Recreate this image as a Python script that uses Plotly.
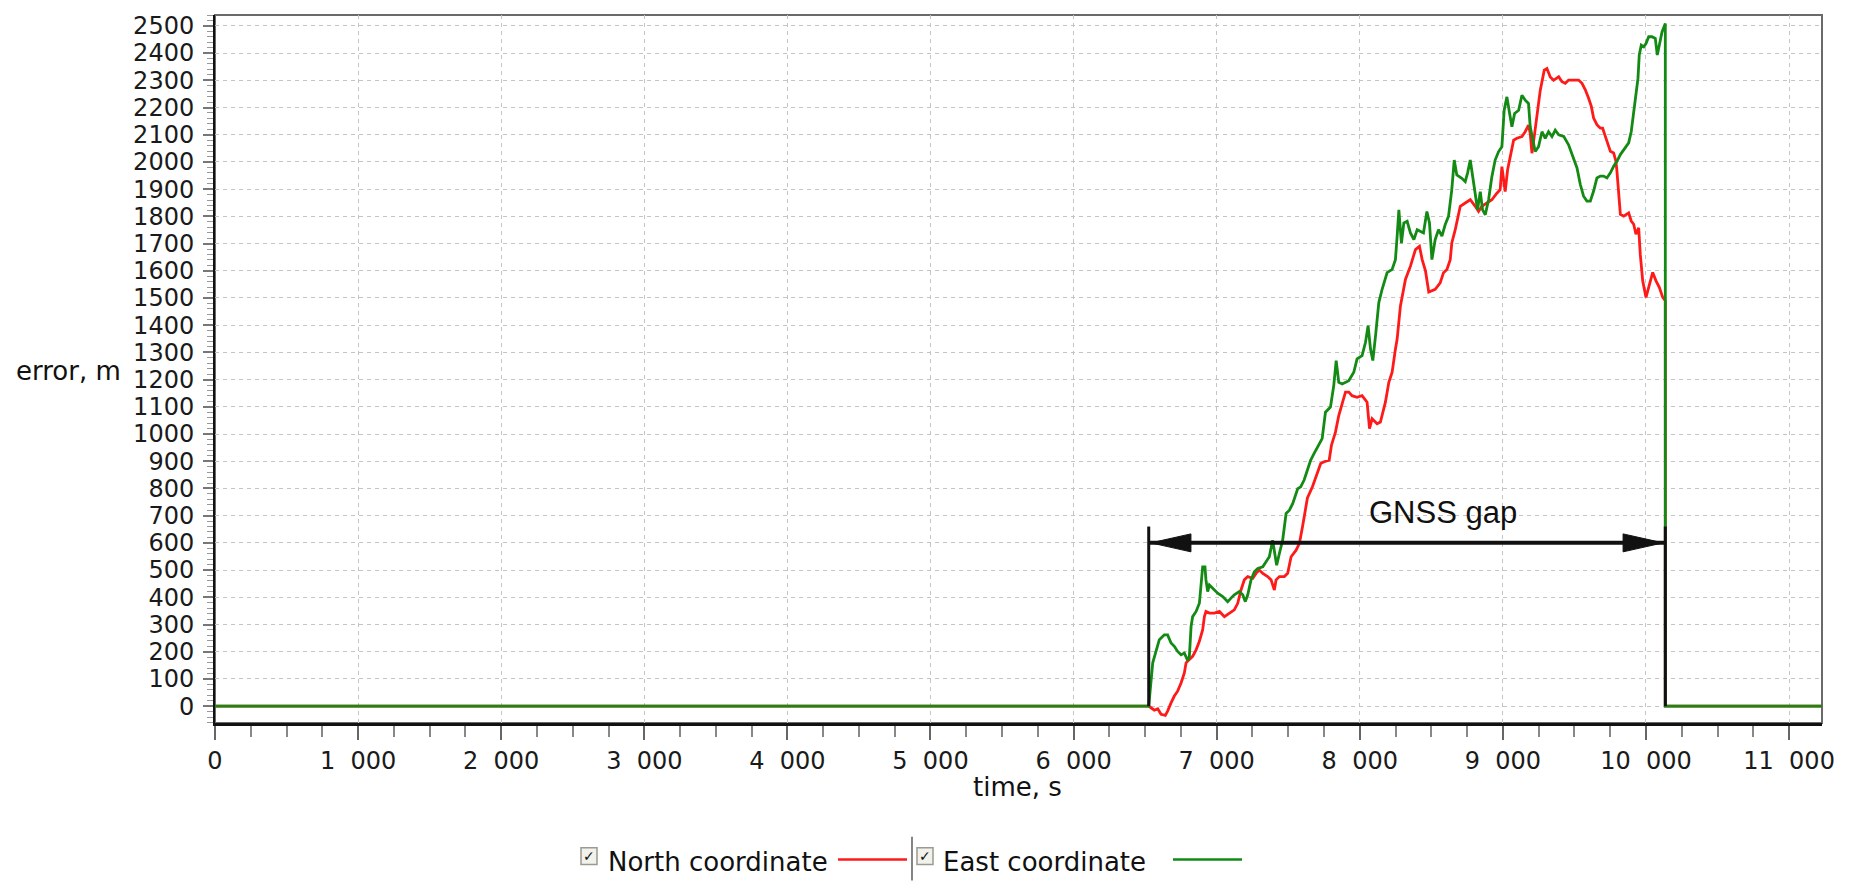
import plotly.graph_objects as go

# ---------------- data ----------------
# (time [s], error [m]) pairs
north_coordinate = [
    (0, 0), (6525, 0), (6541, -6), (6564, -15), (6588, -10), (6611, -30), (6641, -34), (6657, -18),
    (6681, 12), (6704, 37), (6727, 55), (6751, 85), (6774, 122), (6786, 159), (6809, 171), (6832, 183),
    (6856, 207), (6879, 238), (6902, 281), (6914, 329), (6925, 348), (6949, 342), (6984, 342), (7019, 348),
    (7054, 329), (7089, 342), (7123, 354), (7147, 378), (7170, 427), (7193, 464), (7217, 476), (7252, 470),
    (7275, 488), (7298, 500), (7322, 488), (7356, 476), (7380, 464), (7403, 427), (7415, 464), (7438, 476),
    (7473, 476), (7496, 488), (7520, 549), (7555, 573), (7578, 598), (7600, 660), (7634, 765), (7669, 806),
    (7704, 855), (7727, 892), (7751, 898), (7786, 904), (7802, 959), (7830, 1007), (7853, 1068), (7877, 1117),
    (7900, 1154), (7923, 1154), (7946, 1141), (7981, 1135), (8016, 1141), (8051, 1117), (8068, 1020),
    (8086, 1056), (8121, 1038), (8144, 1044), (8179, 1117), (8203, 1190), (8226, 1227), (8249, 1312),
    (8261, 1349), (8284, 1471), (8319, 1568), (8354, 1617), (8389, 1678), (8417, 1690), (8436, 1641),
    (8459, 1600), (8482, 1522), (8527, 1532), (8562, 1556), (8585, 1593), (8609, 1605), (8632, 1641),
    (8643, 1702), (8667, 1751), (8702, 1837), (8737, 1849), (8772, 1861), (8807, 1837), (8830, 1818),
    (8853, 1837), (8888, 1849), (8923, 1861), (8958, 1885), (8981, 1898), (8993, 1983), (9016, 1891),
    (9033, 1971), (9051, 2020), (9075, 2080), (9098, 2087), (9133, 2093), (9156, 2111), (9179, 2135),
    (9191, 2105), (9203, 2032), (9219, 2093), (9238, 2178), (9261, 2263), (9289, 2337), (9308, 2343),
    (9331, 2312), (9354, 2300), (9390, 2313), (9413, 2295), (9436, 2289), (9459, 2301), (9494, 2301),
    (9529, 2301), (9553, 2289), (9576, 2265), (9599, 2234), (9618, 2204), (9634, 2161), (9657, 2137),
    (9681, 2124), (9697, 2124), (9716, 2094), (9734, 2063), (9751, 2039), (9774, 2033), (9790, 2002),
    (9797, 1966), (9809, 1868), (9821, 1807), (9844, 1801), (9879, 1813), (9897, 1783), (9914, 1771),
    (9930, 1734), (9949, 1758), (9960, 1661), (9977, 1563), (10000, 1502), (10023, 1551), (10047, 1594),
    (10070, 1563), (10093, 1539), (10117, 1502), (10135, 1490), (10135, 0), (11230, 0),
]

east_coordinate = [
    (0, 0), (6525, 0), (6553, 159), (6576, 207), (6599, 244), (6634, 262), (6657, 262), (6681, 232),
    (6704, 220), (6727, 201), (6751, 189), (6774, 195), (6797, 168), (6809, 183), (6821, 293), (6832, 329),
    (6856, 348), (6879, 378), (6890, 451), (6902, 512), (6918, 512), (6925, 464), (6937, 421), (6949, 445),
    (6972, 433), (7007, 415), (7042, 403), (7077, 384), (7100, 397), (7123, 409), (7158, 421), (7182, 409),
    (7200, 384), (7217, 409), (7240, 464), (7263, 494), (7287, 506), (7322, 512), (7345, 531), (7368, 549),
    (7391, 610), (7403, 573), (7419, 518), (7438, 561), (7461, 610), (7485, 708), (7508, 720), (7531, 744),
    (7566, 799), (7587, 806), (7611, 831), (7634, 868), (7657, 904), (7681, 929), (7737, 983), (7760, 1080),
    (7795, 1099), (7818, 1178), (7835, 1270), (7853, 1190), (7877, 1184), (7923, 1196), (7958, 1227),
    (7981, 1276), (8016, 1288), (8040, 1337), (8058, 1398), (8075, 1312), (8091, 1270), (8110, 1361),
    (8133, 1483), (8156, 1532), (8191, 1593), (8226, 1605), (8249, 1641), (8261, 1727), (8273, 1824),
    (8291, 1702), (8308, 1776), (8331, 1782), (8354, 1739), (8378, 1715), (8401, 1751), (8422, 1745),
    (8445, 1739), (8469, 1818), (8487, 1776), (8504, 1641), (8527, 1715), (8550, 1751), (8574, 1727),
    (8597, 1770), (8620, 1800), (8643, 1898), (8660, 2007), (8678, 1952), (8713, 1940), (8737, 1928),
    (8753, 1959), (8772, 2007), (8790, 1946), (8807, 1873), (8823, 1824), (8842, 1891), (8858, 1824),
    (8877, 1806), (8900, 1861), (8923, 1946), (8946, 2007), (8970, 2038), (8993, 2056), (9009, 2190),
    (9028, 2239), (9047, 2178), (9063, 2129), (9082, 2178), (9110, 2190), (9133, 2245), (9156, 2227),
    (9179, 2215), (9191, 2129), (9210, 2080), (9226, 2038), (9249, 2056), (9273, 2111), (9296, 2087),
    (9319, 2111), (9343, 2093), (9366, 2117), (9390, 2100), (9425, 2094), (9459, 2063), (9494, 2015),
    (9518, 1978), (9541, 1917), (9564, 1874), (9587, 1856), (9611, 1856), (9634, 1893), (9657, 1941),
    (9681, 1948), (9704, 1948), (9727, 1941), (9751, 1960), (9774, 1984), (9797, 2002), (9821, 2027),
    (9844, 2045), (9879, 2070), (9897, 2112), (9914, 2185), (9930, 2234), (9944, 2307), (9953, 2393),
    (9967, 2429), (9984, 2423), (10000, 2435), (10019, 2460), (10042, 2460), (10065, 2454), (10079, 2393),
    (10093, 2429), (10112, 2478), (10135, 2509), (10135, 0), (11230, 0),
]

north_time = [p[0] for p in north_coordinate]
north_error = [p[1] for p in north_coordinate]
east_time = [p[0] for p in east_coordinate]
east_error = [p[1] for p in east_coordinate]

x_tick_vals = [0, 1000, 2000, 3000, 4000, 5000, 6000, 7000, 8000, 9000, 10000, 11000]
x_tick_text = ["0", "1\u00a0\u00a0000", "2\u00a0\u00a0000", "3\u00a0\u00a0000", "4\u00a0\u00a0000",
               "5\u00a0\u00a0000", "6\u00a0\u00a0000", "7\u00a0\u00a0000", "8\u00a0\u00a0000",
               "9\u00a0\u00a0000", "10\u00a0\u00a0000", "11\u00a0\u00a0000"]

# GNSS gap annotation
gap_start = 6525
gap_end = 10135
gap_arrow_y = 600
gap_marker_top = 660
gap_label = "GNSS gap"
gap_label_x = 8580
gap_label_y = 712

# ---------------- styling ----------------
W, H = 1855, 881
L, R, T, B = 215, 33, 13, 158
PW, PH = W - L - R, H - T - B
X_RANGE = [0, 11230]
Y_RANGE = [-62, 2540]
RED = "#ff1a1a"
GREEN = "#138a13"
TICK_FONT = dict(family="DejaVu Sans", size=24, color="#1a1a1a")
LABEL_FONT = dict(family="DejaVu Sans", size=26, color="#111111")


def px_x(px):
    return (px - L) / PW


def px_y(py):
    return (H - B - py) / PH


fig = go.Figure()
fig.add_trace(go.Scatter(x=north_time, y=north_error, mode="lines", name="North coordinate",
                         line=dict(color=RED, width=2.8)))
fig.add_trace(go.Scatter(x=east_time, y=east_error, mode="lines", name="East coordinate",
                         line=dict(color=GREEN, width=2.8)))

grid = dict(showgrid=True, gridcolor="#c4c4c4", gridwidth=1, griddash="4px,4px", zeroline=False)

fig.update_xaxes(range=X_RANGE, tickmode="array", tickvals=x_tick_vals, ticktext=x_tick_text,
                 ticks="outside", ticklen=14, tickwidth=2, tickcolor="#666666",
                 minor=dict(dtick=250, tick0=0, ticks="outside", ticklen=11, tickwidth=2,
                            tickcolor="#888888", showgrid=False),
                 showline=True, linecolor="#111111", linewidth=3, tickfont=TICK_FONT, **grid)
fig.update_yaxes(range=Y_RANGE, tick0=0, dtick=100, tickformat="d",
                 ticks="outside", ticklen=10, tickwidth=2, tickcolor="#777777",
                 minor=dict(dtick=20, tick0=0, ticks="outside", ticklen=6, tickwidth=1,
                            tickcolor="#999999", showgrid=False),
                 ticklabelstandoff=4,
                 showline=True, linecolor="#111111", linewidth=2, tickfont=TICK_FONT, **grid)

shapes = []
# frame (top/right in grey)
shapes.append(dict(type="rect", xref="paper", yref="paper", x0=0, x1=1, y0=0, y1=1,
                   line=dict(color="#6a6a6a", width=2), layer="below"))
# gap markers
for gx in (gap_start, gap_end):
    shapes.append(dict(type="line", xref="x", yref="y", x0=gx, x1=gx, y0=0, y1=gap_marker_top,
                       line=dict(color="#111111", width=3), layer="above"))
shapes.append(dict(type="line", xref="x", yref="y", x0=gap_start, x1=gap_end, y0=gap_arrow_y,
                   y1=gap_arrow_y, line=dict(color="#111111", width=4), layer="above"))
head_len = 295   # seconds
head_half = 33   # metres
shapes.append(dict(type="path", xref="x", yref="y", layer="above",
                   path=f"M {gap_start + 15},{gap_arrow_y} L {gap_start + head_len},{gap_arrow_y + head_half} "
                        f"L {gap_start + head_len},{gap_arrow_y - head_half} Z",
                   fillcolor="#111111", line=dict(color="#111111", width=1)))
shapes.append(dict(type="path", xref="x", yref="y", layer="above",
                   path=f"M {gap_end - 15},{gap_arrow_y} L {gap_end - head_len},{gap_arrow_y + head_half} "
                        f"L {gap_end - head_len},{gap_arrow_y - head_half} Z",
                   fillcolor="#111111", line=dict(color="#111111", width=1)))

annotations = [
    dict(x=gap_label_x, y=gap_label_y, xref="x", yref="y", text=gap_label, showarrow=False,
         font=dict(family="Liberation Sans", size=31, color="#111111"), xanchor="center", yanchor="middle"),
    dict(x=px_x(14), y=px_y(370), xref="paper", yref="paper", text="error, m", showarrow=False,
         font=LABEL_FONT, xanchor="left", yanchor="middle"),
    dict(x=px_x(1017), y=px_y(787), xref="paper", yref="paper", text="time, s", showarrow=False,
         font=LABEL_FONT, xanchor="center", yanchor="middle"),
]

# custom legend (checkbox, label, line sample)
legend_items = [
    ("North coordinate", RED, 581, 606, 838, 907),
    ("East coordinate", GREEN, 917, 941, 1173, 1242),
]
for label, color, cb_x, tx, l0, l1 in legend_items:
    shapes.append(dict(type="rect", xref="paper", yref="paper", x0=px_x(cb_x), x1=px_x(cb_x + 16),
                       y0=px_y(865), y1=px_y(848), line=dict(color="#9a9a90", width=1.5),
                       fillcolor="#f2f2ec", layer="above"))
    annotations.append(dict(x=px_x(cb_x + 8), y=px_y(856), xref="paper", yref="paper", text="\u2713",
                            showarrow=False, font=dict(family="DejaVu Sans", size=14, color="#111111"),
                            xanchor="center", yanchor="middle"))
    annotations.append(dict(x=px_x(tx), y=px_y(862), xref="paper", yref="paper", text=label,
                            showarrow=False, font=LABEL_FONT, xanchor="left", yanchor="middle"))
    shapes.append(dict(type="line", xref="paper", yref="paper", x0=px_x(l0), x1=px_x(l1),
                       y0=px_y(860), y1=px_y(860), line=dict(color=color, width=2.5)))
# legend separator
shapes.append(dict(type="line", xref="paper", yref="paper", x0=px_x(912), x1=px_x(912),
                   y0=px_y(837), y1=px_y(881), line=dict(color="#333333", width=1.2)))

fig.update_layout(width=W, height=H, margin=dict(l=L, r=R, t=T, b=B, pad=0),
                  paper_bgcolor="white", plot_bgcolor="white", showlegend=False,
                  shapes=shapes, annotations=annotations,
                  font=dict(family="DejaVu Sans", color="#111111"))

fig.write_html("out.html", config={"displayModeBar": False},
               post_script="document.body.style.margin='0';document.body.style.overflow='hidden';")
